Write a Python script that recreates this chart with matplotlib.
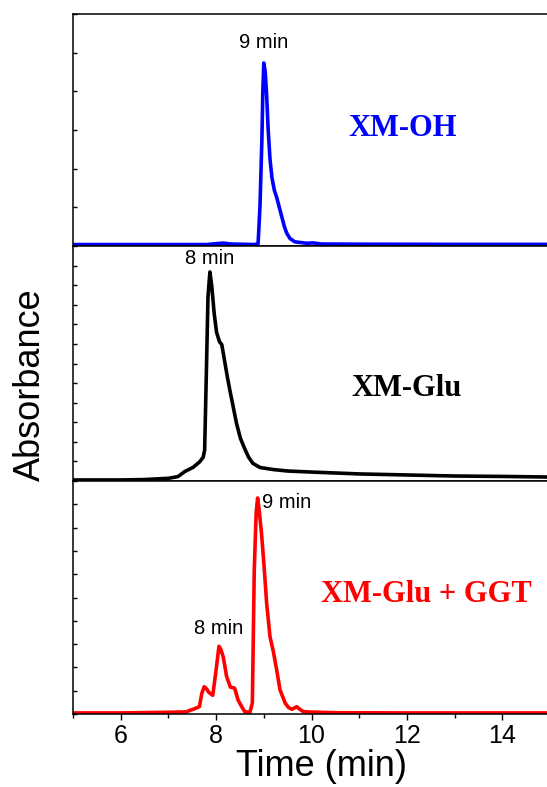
import matplotlib
matplotlib.use('Agg')
import matplotlib.pyplot as plt
from matplotlib.ticker import MultipleLocator, LinearLocator, NullFormatter

# HPLC traces (time in min, absorbance normalised to the main peak)
t_oh = [5.0, 7.0, 7.8, 8.05, 8.15, 8.3, 8.8, 8.88, 8.92, 8.96, 8.98, 9.0,
        9.03, 9.06, 9.09, 9.13, 9.17, 9.22, 9.27, 9.32, 9.38, 9.43, 9.48,
        9.55, 9.65, 9.9, 10.03, 10.2, 11.0, 13.0, 15.0]
a_oh = [0.0, 0.0, 0.0, 0.006, 0.008, 0.003, 0.0, 0.004, 0.21, 0.576, 0.85, 1.0,
        0.95, 0.82, 0.64, 0.47, 0.37, 0.3, 0.26, 0.21, 0.15, 0.1, 0.063,
        0.033, 0.015, 0.007, 0.009, 0.003, 0.002, 0.001, 0.001]

t_glu = [5.0, 6.0, 6.5, 7.0, 7.2, 7.34, 7.52, 7.66, 7.73, 7.76, 7.8, 7.83,
         7.87, 7.91, 7.96, 8.01, 8.07, 8.12, 8.18, 8.24, 8.29, 8.36, 8.43,
         8.51, 8.6, 8.68, 8.77, 8.92, 9.2, 9.5, 10.0, 11.0, 12.0, 13.0, 14.0, 15.0]
a_glu = [0.0, 0.0, 0.002, 0.008, 0.016, 0.04, 0.061, 0.088, 0.11, 0.144, 0.56, 0.88,
         1.0, 0.93, 0.8, 0.71, 0.665, 0.65, 0.57, 0.49, 0.43, 0.35, 0.27,
         0.2, 0.15, 0.11, 0.08, 0.06, 0.05, 0.043, 0.038, 0.029, 0.024, 0.019, 0.017, 0.014]

t_ggt = [5.0, 6.0, 7.0, 7.38, 7.45, 7.52, 7.65, 7.7, 7.75, 7.8, 7.85, 7.93, 8.0,
         8.06, 8.1, 8.15, 8.22, 8.3, 8.39, 8.46, 8.54, 8.6, 8.71, 8.76, 8.78,
         8.8, 8.82, 8.84, 8.87, 8.9, 8.95, 9.0, 9.06, 9.13, 9.2, 9.27, 9.34, 9.45,
         9.52, 9.59, 9.69, 9.76, 9.83, 10.0, 10.5, 12.0, 15.0]
a_ggt = [0.0, 0.0, 0.003, 0.005, 0.012, 0.017, 0.029, 0.09, 0.122, 0.112, 0.095, 0.082, 0.2,
         0.31, 0.295, 0.26, 0.17, 0.12, 0.115, 0.06, 0.028, 0.006, 0.003, 0.047, 0.355,
         0.665, 0.8, 0.93, 1.0, 0.95, 0.84, 0.7, 0.51, 0.355, 0.285, 0.2, 0.107, 0.045,
         0.025, 0.017, 0.029, 0.016, 0.006, 0.004, 0.001, 0.0, 0.0]

plt.rcParams['font.family'] = ['Liberation Sans', 'DejaVu Sans']

fig = plt.figure(figsize=(5.47, 7.87), dpi=100)
W, H = 547, 787


def panel(top, bottom, ylim, nticks):
    ax = fig.add_axes([73 / W, (H - bottom) / H, 477 / W, (bottom - top) / H])
    ax.set_xlim(5, 15)
    ax.set_ylim(*ylim)
    ax.xaxis.set_major_locator(MultipleLocator(2))
    ax.xaxis.set_minor_locator(MultipleLocator(1))
    ax.yaxis.set_major_locator(LinearLocator(nticks))
    ax.yaxis.set_major_formatter(NullFormatter())
    ax.tick_params(axis='x', which='major', direction='out', length=4, width=1)
    ax.tick_params(axis='x', which='minor', direction='out', length=3, width=1)
    ax.tick_params(axis='y', direction='in', length=3, width=1)
    for s in ax.spines.values():
        s.set_linewidth(1.1)
    return ax


ax1 = panel(14, 246, (-0.008, 1.27), 7)
ax2 = panel(246, 481, (-0.005, 1.125), 13)
ax3 = panel(481, 714, (-0.005, 1.079), 11)

line = dict(lw=2.6, solid_joinstyle='round', solid_capstyle='round')
ax1.plot(t_oh, a_oh, color='#0000ff', **line)
ax2.plot(t_glu, a_glu, color='black', **line)
ax3.plot(t_ggt, a_ggt, color='#ff0000', **line)

for ax in (ax1, ax2):
    ax.xaxis.set_major_formatter(NullFormatter())
ax3.tick_params(axis='x', labelsize=18, pad=3)

# peak annotations
lab = dict(fontsize=14.5, color='black')
ax1.text(9.0, 1.06, '9 min', ha='center', va='bottom', **lab)
ax2.text(7.87, 1.02, '8 min', ha='center', va='bottom', **lab)
ax3.text(8.97, 0.98, '9 min', ha='left', va='center', **lab)
ax3.text(8.05, 0.35, '8 min', ha='center', va='bottom', **lab)

serif = dict(family='Liberation Serif', fontweight='bold', fontsize=22)
ax1.text(11.9, 0.64, 'XM-OH', color='#0000ff', ha='center', va='center', **serif)
ax2.text(12.0, 0.44, 'XM-Glu', color='black', ha='center', va='center', **serif)
ax3.text(12.4, 0.55, 'XM-Glu + GGT', color='#ff0000', ha='center', va='center', **serif)

fig.text(322 / W, 1 - 767 / H, 'Time (min)', fontsize=26, ha='center', va='center')
fig.text(30 / W, 1 - 385 / H, 'Absorbance', fontsize=26, rotation=90,
         ha='center', va='center')

fig.savefig('out.png', dpi=100)
